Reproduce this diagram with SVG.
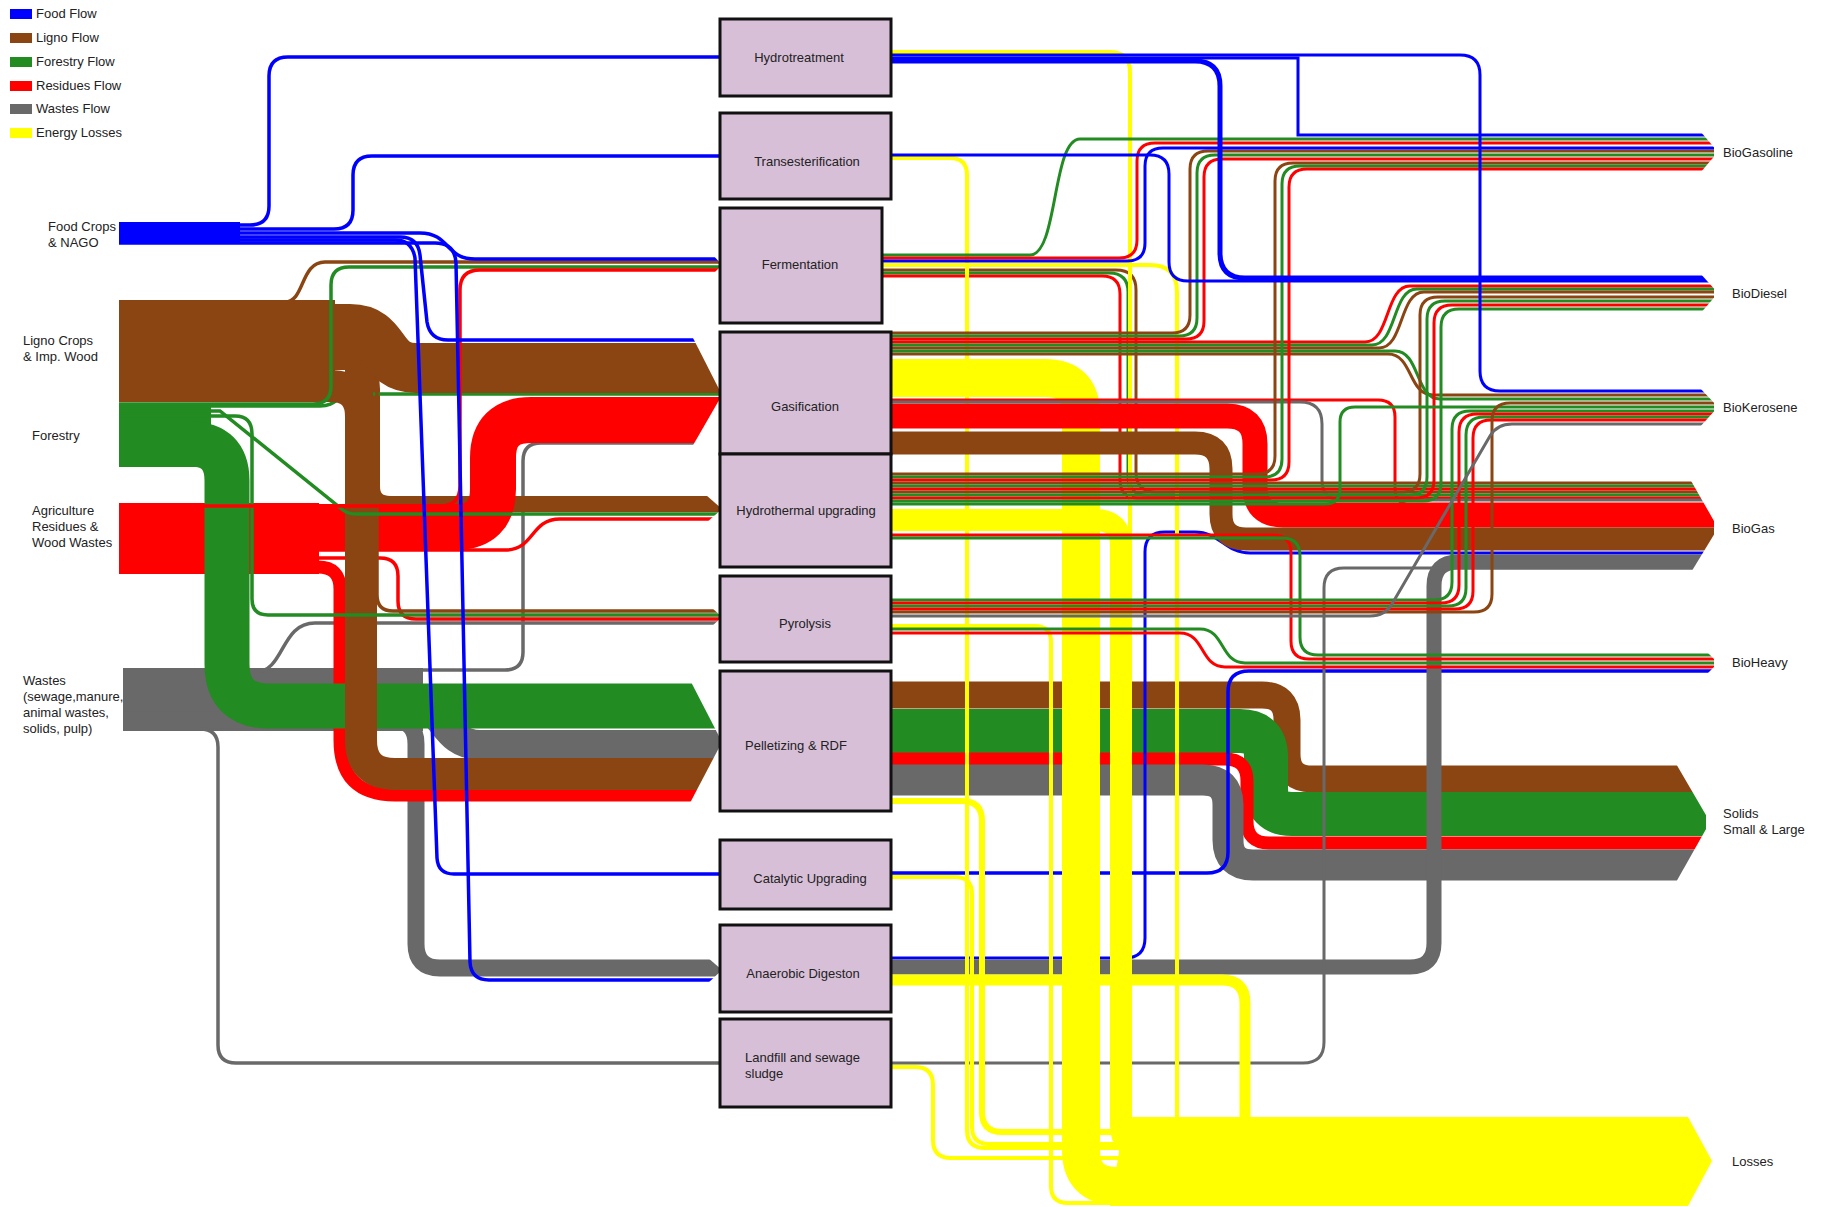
<svg xmlns="http://www.w3.org/2000/svg" width="1822" height="1207" viewBox="0 0 1822 1207">
<style>
.b{stroke:#0000ff}.n{stroke:#8b4513}.g{stroke:#228b22}.r{stroke:#ff0000}.k{stroke:#696969}.y{stroke:#ffff00}
.box{fill:#d8bfd8;stroke:#111;stroke-width:3}
.t{font-family:"Liberation Sans",Arial,sans-serif;font-size:13px;fill:#222}
.c{text-anchor:middle}
.cut{fill:#fff;stroke:none}
</style>
<rect width="1822" height="1207" fill="#fff"/>
<g id="legend">
<rect x="10" y="9" width="22" height="10" fill="#0000ff"/><text class="t" x="36" y="18">Food Flow</text>
<rect x="10" y="33" width="22" height="10" fill="#8b4513"/><text class="t" x="36" y="42">Ligno Flow</text>
<rect x="10" y="57" width="22" height="10" fill="#228b22"/><text class="t" x="36" y="66">Forestry Flow</text>
<rect x="10" y="81" width="22" height="10" fill="#ff0000"/><text class="t" x="36" y="90">Residues Flow</text>
<rect x="10" y="104" width="22" height="10" fill="#696969"/><text class="t" x="36" y="113">Wastes Flow</text>
<rect x="10" y="128" width="22" height="10" fill="#ffff00"/><text class="t" x="36" y="137">Energy Losses</text>
</g>
<g id="connectors" fill="none" stroke-width="3.5">
<!-- left: wastes -->
<rect x="123" y="668" width="300" height="63" fill="#696969"/>
<path class="k" stroke-width="30" d="M123 700 H405 C445 700 440 745 480 745 H720"/>
<path class="k" stroke-width="17" d="M123 720 H392 Q416 720 416 744 V944 Q416 968 440 968 H720"/>
<path class="k" d="M123 729 H200 Q218 729 218 747 V1045 Q218 1063 236 1063 H720"/>
<path class="k" d="M200 670 H505 Q523 670 523 652 V461 Q523 443 541 443 H720"/>
<path class="k" d="M200 672 H255 C285 672 280 623 315 623 H720"/>
<!-- left: brown hydrothermal (under red) -->
<path class="n" stroke-width="16" d="M119 362 H345 Q372 362 372 389 V486 Q372 504 390 504 H720"/>
<!-- residues -->
<rect x="119" y="503" width="200" height="71" fill="#ff0000"/>
<path class="r" d="M119 550 H505 C535 550 530 519 560 519 H720"/>
<path class="r" d="M119 558 H380 Q398 558 398 576 V601 Q398 619 416 619 H720"/>
<path class="r" stroke-width="46" d="M119 527 H455 Q493 527 493 489 V458 Q493 420 531 420 H720"/>
<path class="r" stroke-width="13" d="M119 567 H318 Q340 567 340 589 V740 Q340 795 395 795 H720"/>
<!-- forestry -->
<rect x="119" y="403" width="92" height="64" fill="#228b22"/>
<path class="g" stroke-width="45" d="M119 444 H190 Q227 444 227 481 V664 Q227 706 269 706 H720"/>
<path class="g" d="M119 406 H320 C338 406 336 394 355 394 H720"/>
<!-- ligno -->
<rect x="119" y="300" width="216" height="102" fill="#8b4513"/>
<rect x="345" y="352" width="28" height="50" fill="#8b4513"/>
<path class="n" stroke-width="32" d="M119 386 H330 Q361 386 361 417 V740 Q361 774 395 774 H720"/>
<path class="n" stroke-width="50" d="M119 329 H350 C388 329 378 368 416 368 H720"/>
<path class="n" d="M119 302 H285 C305 302 300 262 325 262 H720"/>
<path class="n" d="M119 366 H348 Q377 366 377 395 V595 Q377 611 393 611 H720"/>
<!-- thin green / red -->
<path class="g" d="M119 404 H313 Q331 404 331 386 V285 Q331 267 349 267 H720"/>
<path class="g" d="M119 411 H220 L343 510 Q348 514 356 514 H720"/>
<path class="g" d="M119 416 H235 Q252 416 252 434 V599 Q252 615 268 615 H720"/>
<path class="r" d="M119 506 H440 Q460 506 460 486 V290 Q460 270 480 270 H720"/>
<!-- food -->
<rect x="119" y="222" width="121" height="22" fill="#0000ff"/>
<path class="b" d="M119 225 H250 Q269 225 269 206 V76 Q269 57 288 57 H720"/>
<path class="b" d="M119 229 H334 Q353 229 353 210 V175 Q353 156 372 156 H720"/>
<path class="b" d="M119 233 H420 C450 233 445 259 475 259 H720"/>
<path class="b" d="M119 237 H400 Q418 237 420 255 L427 322 Q430 340 448 340 H700"/>
<path class="b" d="M119 240 H395 Q412 240 415 258 L437 858 Q438 874 454 874 H720"/>
<path class="b" d="M119 243 H435 Q455 243 456 263 L470 962 Q471 980 489 980 H720"/>
<!-- input arrow cuts -->
<polygon class="cut" points="712,254 722,254 722,265"/><polygon class="cut" points="712,275 722,275 722,265"/>
<polygon class="cut" points="692,336 722,336 722,395"/><polygon class="cut" points="692,447 722,447 722,395"/>
<polygon class="cut" points="706,495 722,495 722,509"/><polygon class="cut" points="706,523 722,523 722,509"/>
<polygon class="cut" points="711,607 722,607 722,617"/><polygon class="cut" points="711,627 722,627 722,617"/>
<polygon class="cut" points="690,680 722,680 722,742"/><polygon class="cut" points="690,803 722,803 722,742"/>
<polygon class="cut" points="707,957 722,957 722,970"/><polygon class="cut" points="707,984 722,984 722,970"/>

<!-- right: pelletizing -->
<path class="n" stroke-width="27" d="M891 695 H1262 Q1287 695 1287 720 V754 Q1287 779 1312 779 H1706"/>
<path class="g" stroke-width="44" d="M891 731 H1240 Q1266 731 1266 757 V788 Q1266 814 1292 814 H1706"/>
<path class="r" stroke-width="13" d="M891 759 H1225 Q1247 759 1247 781 V821 Q1247 843 1269 843 H1706"/>
<path class="k" stroke-width="31" d="M891 780 H1203 Q1228 780 1228 805 V840 Q1228 865 1253 865 H1706"/>
<!-- catalytic / anaerobic / landfill -->
<path class="b" d="M891 873 H1207 Q1228 873 1228 852 V692 Q1228 671 1249 671 H1714"/>
<path class="b" stroke-width="3" d="M891 958 H1125 Q1145 958 1145 938 V552 Q1145 532 1165 532 H1195 C1220 532 1225 553 1250 553 H1714"/>
<path class="k" stroke-width="15" d="M891 967 H1410 Q1434 967 1434 943 V586 Q1434 562 1458 562 H1714"/>
<path class="k" stroke-width="3" d="M891 1063 H1303 Q1324 1063 1324 1042 V588 Q1324 568 1344 568 H1714"/>
<!-- fermentation lines to BioGas (under gasification) -->
<path class="n" stroke-width="3" d="M882 270 H1116 Q1136 270 1136 290 V472 Q1136 492 1156 492 H1714"/>
<path class="g" stroke-width="3" d="M882 273 H1109 Q1128 273 1128 292 V476 Q1128 495 1147 495 H1714"/>
<path class="r" stroke-width="3" d="M882 276 H1102 Q1120 276 1120 294 V480 Q1120 498 1138 498 H1714"/>
<!-- yellow losses -->
<path class="y" stroke-width="4" d="M891 52 H1110 Q1130 52 1130 72 V1130"/>
<path class="y" stroke-width="4" d="M891 158 H950 Q967 158 967 175 V1130 Q967 1148 985 1148 H1130"/>
<path class="y" stroke-width="4" d="M882 265 H1150 Q1177 265 1177 292 V1125"/>
<path class="y" stroke-width="4" d="M891 626 H1035 Q1051 626 1051 642 V1186 Q1051 1203 1068 1203 H1150"/>
<path class="y" stroke-width="6" d="M891 801 H962 Q982 801 982 821 V1112 Q982 1132 1002 1132 H1250"/>
<path class="y" stroke-width="4" d="M891 877 H955 Q972 877 972 894 V1127 Q972 1144 989 1144 H1130"/>
<path class="y" stroke-width="11" d="M891 980 H1222 Q1245 980 1245 1003 V1125"/>
<path class="y" stroke-width="4" d="M891 1067 H915 Q933 1067 933 1085 V1140 Q933 1158 951 1158 H1150"/>
<path class="y" stroke-width="22" d="M891 520 H1095 Q1121 520 1121 546 V1125 Q1121 1150 1146 1150 H1200"/>
<path class="y" stroke-width="38" d="M891 378 H1045 Q1081 378 1081 414 V1150 Q1081 1186 1117 1186 H1200"/>
<polygon fill="#ffff00" points="1125,1117 1688,1117 1712,1161 1688,1206 1110,1206"/>
<!-- gasification -->
<path class="r" stroke-width="25" d="M891 416 H1227 Q1255 416 1255 444 V487 Q1255 515 1283 515 H1714"/>
<path class="n" stroke-width="23" d="M891 443 H1195 Q1221 443 1221 469 V514 Q1221 539 1246 539 H1714"/>
<path class="r" stroke-width="3" d="M891 400 H1378 Q1395 400 1395 417 V488 Q1395 505 1412 505 H1714"/>
<path class="k" stroke-width="3" d="M891 402 H1300 Q1322 402 1322 424 V480 Q1322 500 1342 500 H1714"/>
<path class="n" stroke-width="3" d="M891 333 H1172 Q1190 333 1190 315 V169 Q1190 151 1208 151 H1714"/>
<path class="g" stroke-width="3" d="M891 336 H1179 Q1197 336 1197 318 V173 Q1197 155 1215 155 H1714"/>
<path class="r" stroke-width="3" d="M891 339 H1186 Q1204 339 1204 321 V177 Q1204 159 1222 159 H1714"/>
<path class="r" stroke-width="3" d="M891 342 H1365 C1390 342 1385 286 1410 286 H1714"/>
<path class="g" stroke-width="3" d="M891 345 H1372 C1397 345 1392 289 1417 289 H1714"/>
<path class="n" stroke-width="3" d="M891 348 H1379 C1404 348 1399 292 1424 292 H1714"/>
<path class="n" stroke-width="3" d="M891 354 H1388 C1413 354 1408 395 1433 395 H1714"/>
<path class="g" stroke-width="3" d="M891 351 H1395 C1420 351 1415 399 1440 399 H1714"/>
<!-- hydrothermal -->
<path class="n" stroke-width="3" d="M891 474 H1257 Q1275 474 1275 456 V181 Q1275 163 1293 163 H1714"/>
<path class="g" stroke-width="3" d="M891 477 H1264 Q1282 477 1282 459 V184 Q1282 166 1300 166 H1714"/>
<path class="r" stroke-width="3" d="M891 480 H1271 Q1289 480 1289 462 V187 Q1289 169 1307 169 H1714"/>
<path class="n" stroke-width="3" d="M891 483 H1714"/>
<path class="g" stroke-width="3" d="M891 486 H1714"/>
<path class="r" stroke-width="3" d="M891 489 H1714"/>
<path class="n" stroke-width="3" d="M891 492 H1402 Q1420 492 1420 474 V315 Q1420 297 1438 297 H1714"/>
<path class="g" stroke-width="3" d="M891 495 H1409 Q1427 495 1427 477 V319 Q1427 301 1445 301 H1714"/>
<path class="r" stroke-width="3" d="M891 498 H1416 Q1434 498 1434 480 V323 Q1434 305 1452 305 H1714"/>
<path class="g" stroke-width="3" d="M891 501 H1423 Q1441 501 1441 483 V327 Q1441 309 1459 309 H1714"/>
<path class="g" stroke-width="3" d="M891 504 H1325 Q1340 504 1340 489 V422 Q1340 407 1355 407 H1714"/>
<path class="r" stroke-width="3" d="M891 535 H1273 Q1291 535 1291 553 V641 Q1291 659 1309 659 H1714"/>
<path class="g" stroke-width="3" d="M891 538 H1282 Q1300 538 1300 556 V637 Q1300 655 1318 655 H1714"/>
<!-- pyrolysis -->
<path class="g" stroke-width="3" d="M891 600 H1434 Q1452 600 1452 582 V429 Q1452 411 1470 411 H1714"/>
<path class="r" stroke-width="3" d="M891 603 H1441 Q1459 603 1459 585 V432 Q1459 414 1477 414 H1714"/>
<path class="g" stroke-width="3" d="M891 606 H1448 Q1466 606 1466 588 V435 Q1466 417 1484 417 H1714"/>
<path class="r" stroke-width="3" d="M891 609 H1455 Q1473 609 1473 591 V438 Q1473 420 1491 420 H1714"/>
<path class="n" stroke-width="3" d="M891 612 H1474 Q1492 612 1492 594 V421 Q1492 403 1510 403 H1714"/>
<path class="k" stroke-width="3" d="M891 616 H1370 Q1385 616 1392 604 L1490 436 Q1497 424 1512 424 H1714"/>
<path class="g" stroke-width="3" d="M891 629 H1200 C1225 629 1220 663 1245 663 H1714"/>
<path class="r" stroke-width="3" d="M891 633 H1180 C1205 633 1200 667 1225 667 H1714"/>
<!-- fermentation to BioGasoline -->
<path class="g" stroke-width="3" d="M882 255 H1030 C1058 255 1052 139 1080 139 H1714"/>
<path class="r" stroke-width="3" d="M882 258 H1119 Q1137 258 1137 240 V161 Q1137 143 1155 143 H1714"/>
<path class="b" stroke-width="3" d="M882 261 H1127 Q1145 261 1145 243 V166 Q1145 148 1163 148 H1714"/>
<!-- hydrotreatment / transesterification blue -->
<path class="b" stroke-width="3" d="M891 55 H1460 Q1480 55 1480 75 V371 Q1480 391 1500 391 H1714"/>
<path class="b" stroke-width="3" d="M891 58 H1298 V135 H1714"/>
<path class="b" stroke-width="5" d="M891 61 H1195 Q1220 61 1220 86 V253 Q1220 278 1245 278 H1714"/>
<path class="b" stroke-width="3" d="M891 155 H1150 Q1169 155 1169 174 V262 Q1169 281 1188 281 H1714"/>
<!-- output arrow cuts -->
<polygon class="cut" points="1700,131 1718,131 1718,152"/><polygon class="cut" points="1700,173 1718,173 1718,152"/>
<polygon class="cut" points="1699,272 1718,272 1718,293"/><polygon class="cut" points="1699,315 1718,315 1718,293"/>
<polygon class="cut" points="1699,387 1718,387 1718,407"/><polygon class="cut" points="1699,428 1718,428 1718,407"/>
<polygon class="cut" points="1690,479 1718,479 1718,528"/><polygon class="cut" points="1690,574 1718,574 1718,528"/>
<polygon class="cut" points="1706,651 1718,651 1718,663"/><polygon class="cut" points="1706,675 1718,675 1718,663"/>
<polygon class="cut" points="1675,762 1710,762 1710,822"/><polygon class="cut" points="1675,884 1710,884 1710,822"/>
</g>
<g id="node-hydrotreatment"><rect class="box" x="720" y="19" width="171" height="77"/><text class="t c" x="799" y="62">Hydrotreatment</text></g>
<g id="node-transesterification"><rect class="box" x="720" y="113" width="171" height="86"/><text class="t c" x="807" y="166">Transesterification</text></g>
<g id="node-fermentation"><rect class="box" x="720" y="208" width="162" height="115"/><text class="t c" x="800" y="269">Fermentation</text></g>
<g id="node-gasification"><rect class="box" x="720" y="332" width="171" height="122"/><text class="t c" x="805" y="411">Gasification</text></g>
<g id="node-hydrothermal"><rect class="box" x="720" y="454" width="171" height="113"/><text class="t c" x="806" y="515">Hydrothermal upgrading</text></g>
<g id="node-pyrolysis"><rect class="box" x="720" y="576" width="171" height="86"/><text class="t c" x="805" y="628">Pyrolysis</text></g>
<g id="node-pelletizing"><rect class="box" x="720" y="671" width="171" height="140"/><text class="t c" x="796" y="750">Pelletizing &amp; RDF</text></g>
<g id="node-catalytic"><rect class="box" x="720" y="840" width="171" height="69"/><text class="t c" x="810" y="883">Catalytic Upgrading</text></g>
<g id="node-anaerobic"><rect class="box" x="720" y="925" width="171" height="87"/><text class="t c" x="803" y="978">Anaerobic Digeston</text></g>
<g id="node-landfill"><rect class="box" x="720" y="1019" width="171" height="88"/><text class="t" x="745" y="1062">Landfill and sewage</text><text class="t" x="745" y="1078">sludge</text></g>
<g id="node-food"><text class="t" x="48" y="231">Food Crops</text><text class="t" x="48" y="247">&amp; NAGO</text></g>
<g id="node-ligno"><text class="t" x="23" y="345">Ligno Crops</text><text class="t" x="23" y="361">&amp; Imp. Wood</text></g>
<g id="node-forestry"><text class="t" x="32" y="440">Forestry</text></g>
<g id="node-residues"><text class="t" x="32" y="515">Agriculture</text><text class="t" x="32" y="531">Residues &amp;</text><text class="t" x="32" y="547">Wood Wastes</text></g>
<g id="node-wastes"><text class="t" x="23" y="685">Wastes</text><text class="t" x="23" y="701">(sewage,manure,</text><text class="t" x="23" y="717">animal wastes,</text><text class="t" x="23" y="733">solids, pulp)</text></g>
<g id="node-biogasoline"><text class="t" x="1723" y="157">BioGasoline</text></g>
<g id="node-biodiesel"><text class="t" x="1732" y="298">BioDiesel</text></g>
<g id="node-biokerosene"><text class="t" x="1723" y="412">BioKerosene</text></g>
<g id="node-biogas"><text class="t" x="1732" y="533">BioGas</text></g>
<g id="node-bioheavy"><text class="t" x="1732" y="667">BioHeavy</text></g>
<g id="node-solids"><text class="t" x="1723" y="818">Solids</text><text class="t" x="1723" y="834">Small &amp; Large</text></g>
<g id="node-losses"><text class="t" x="1732" y="1166">Losses</text></g>
</svg>
